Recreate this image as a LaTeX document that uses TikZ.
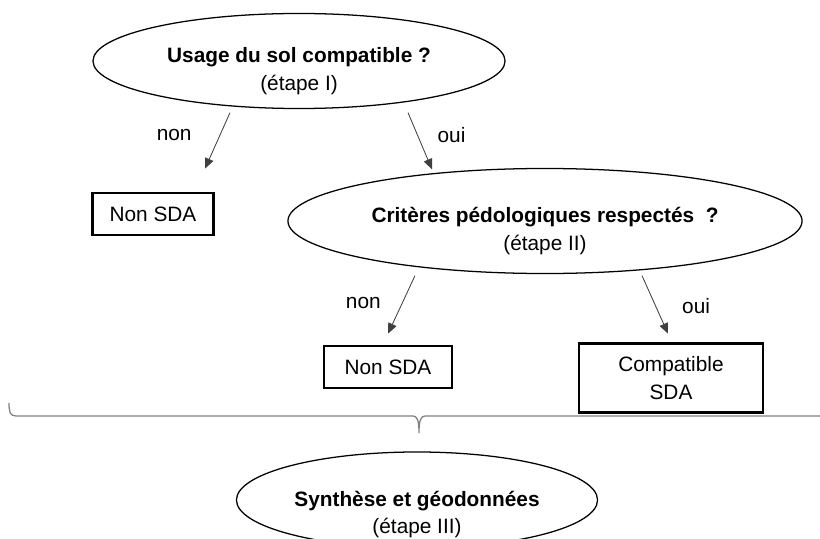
\documentclass[tikz,border=0pt]{standalone}
\usepackage{fontspec}
\setmainfont{Liberation Sans}
\usetikzlibrary{shapes.geometric,arrows.meta}

\tikzset{
  question/.style={draw, ellipse, line width=0.9pt, inner sep=0pt},
  result/.style={draw, rectangle, line width=1.9pt, align=center, inner sep=0pt},
  branch/.style={-{Triangle[length=0.26cm,width=0.22cm]}, draw=black!75, line width=0.6pt},
  answer/.style={inner sep=0pt},
  brace/.style={draw=black!50, line width=0.9pt},
}

\begin{document}
\begin{tikzpicture}[x=0.025cm, y=-0.025cm,
    every node/.style={font=\fontsize{14.8}{19.5}\selectfont},
    every label/.style={align=center, font=\fontsize{14.8}{19.5}\selectfont}]
  \useasboundingbox (0,0) rectangle (820,538);

  % etape I
  \node[question, minimum width=10.3cm, minimum height=2.375cm,
        label={[yshift=-0.25cm]center:{\textbf{Usage du sol compatible ?}\\(étape I)}}] (usage) at (299,61) {};
  \node[result, minimum width=3.025cm, minimum height=1.05cm] (nonA) at (153,214) {Non SDA};

  % etape II
  \node[question, minimum width=12.85cm, minimum height=2.625cm,
        label={[yshift=-0.25cm]center:{\textbf{Critères pédologiques respectés\ \ ?}\\(étape II)}}] (crit) at (545,221) {};
  \node[result, minimum width=3.2cm, minimum height=1.05cm] (nonB) at (388,367) {Non SDA};
  \node[result, minimum width=4.6cm, minimum height=1.725cm] (compat) at (671,378) {Compatible\\SDA};

  % etape III
  \node[question, minimum width=9.025cm, minimum height=2.4cm,
        label={[yshift=-0.37cm]center:{\textbf{Synthèse et géodonnées}\\(étape III)}}] (synth) at (417,500) {};

  \draw[branch] ([shift={(-69,3.5)}]usage.south) -- node[pos=0.4, left=0.7cm, answer]{non} ([shift={(52,-23)}]nonA.north);
  \draw[branch] ([shift={(109,3.5)}]usage.south) -- node[pos=0.4, right=0.49cm, answer]{oui} ([shift={(-113,1.5)}]crit.north);
  \draw[branch] ([shift={(-130,1.5)}]crit.south) -- node[pos=0.47, left=0.53cm, answer]{non} ([shift={(0,-11)}]nonB.north);
  \draw[branch] ([shift={(97,1.5)}]crit.south) -- node[pos=0.53, right=0.65cm, answer]{oui} ([shift={(-3,-8.5)}]compat.north);

  % accolade
  \draw[brace] (9,403) .. controls (9,412) and (10,416) .. (16,416) -- (413,416)
    .. controls (417,416) and (419,420) .. (419,433)
    .. controls (419,420) and (421,416) .. (425,416) -- (830,416);
\end{tikzpicture}
\end{document}
